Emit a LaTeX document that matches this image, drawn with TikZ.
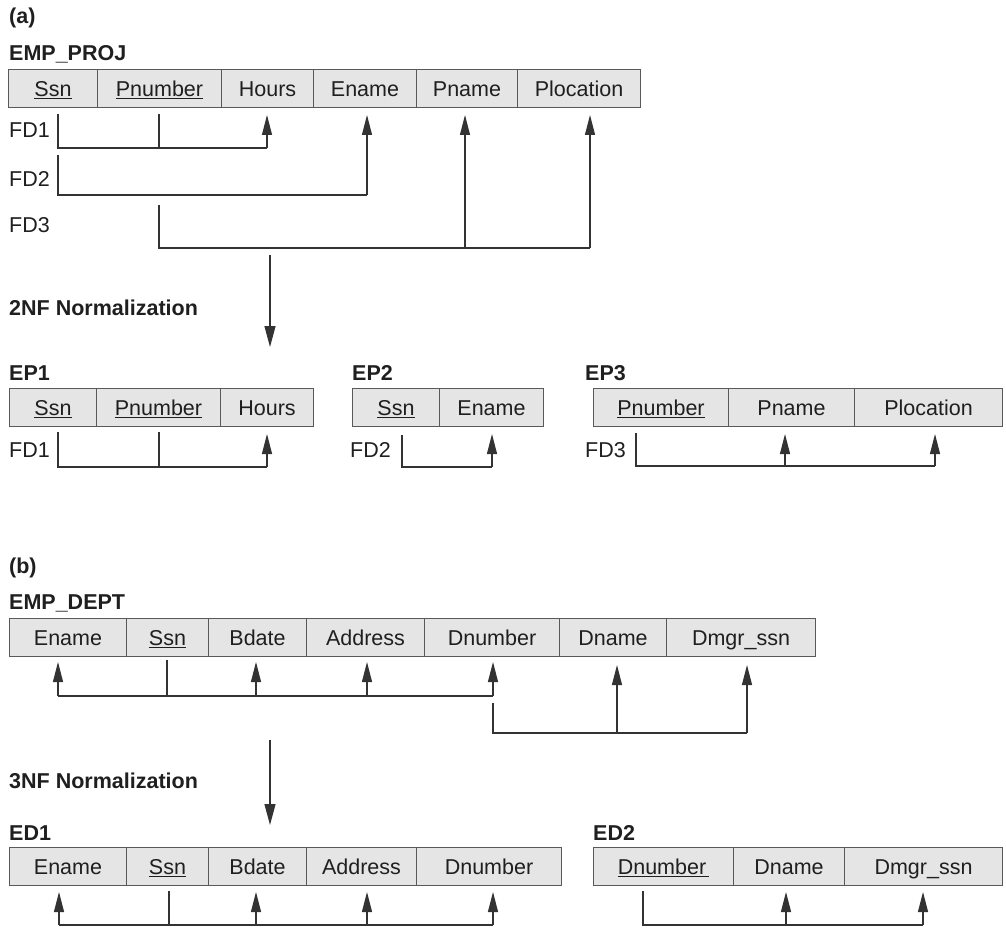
\documentclass[tikz,border=0pt]{standalone}
\usepackage{fontspec}
\setmainfont{Liberation Sans}
\usetikzlibrary{arrows.meta}
\definecolor{textcol}{gray}{0.12}
\definecolor{linecol}{gray}{0.2}
\definecolor{bordercol}{gray}{0.35}
\definecolor{cellgray}{gray}{0.9}
\newcommand\cellfont{\fontsize{21.5}{24}\selectfont}
\newcommand\lblfont{\fontsize{21.5}{24}\selectfont\bfseries}
\newcommand\ul[1]{\underline{#1}}
\tikzset{
  cell/.style={draw=bordercol, fill=cellgray, line width=1pt, anchor=north west,
    minimum height=38pt, inner sep=0pt, text height=15.4pt, text depth=0pt,
    font=\cellfont, text=textcol},
  lbl/.style={anchor=base west, inner sep=0pt, font=\lblfont, text=textcol},
  fdlbl/.style={anchor=base west, inner sep=0pt, font=\cellfont, text=textcol},
  fdline/.style={draw=linecol, line width=1.2pt},
  fdarrow/.style={fdline, -{Triangle[length=20pt,width=10pt]}},
  normarrow/.style={fdline, -{Triangle[length=21pt,width=11pt]}},
}
\begin{document}
\begin{tikzpicture}[x=1pt,y=-1pt]
\useasboundingbox (0,0) rectangle (1006,928);

% ---------------- (a) ----------------
\node[lbl] (labA) at (9,24) {(a)};
\node[lbl] (tEP) at (9,61) {EMP\_PROJ};
\node[cell, minimum width=89pt]  (epSsn)   at (8,69)   {\ul{Ssn}};
\node[cell, minimum width=124pt] (epPnum)  at (97,69)  {\ul{Pnumber}};
\node[cell, minimum width=92pt]  (epHours) at (221,69) {Hours};
\node[cell, minimum width=103pt] (epEname) at (313,69) {Ename};
\node[cell, minimum width=101pt] (epPname) at (416,69) {Pname};
\node[cell, minimum width=123pt] (epPloc)  at (517,69) {Plocation};

\node[fdlbl] (fd1a) at (9,138) {FD1};
\node[fdlbl] (fd2a) at (9,187) {FD2};
\node[fdlbl] (fd3a) at (9,233) {FD3};

% FD1
\coordinate (a1s) at (58,114);  \coordinate (a1sb) at (58,148);
\coordinate (a1p) at (159,114); \coordinate (a1pb) at (159,148);
\coordinate (a1hb) at (267,148); \coordinate (a1h) at (267,115);
\draw[fdline] (a1s) -- (a1sb) -- (a1hb);
\draw[fdline] (a1p) -- (a1pb);
\draw[fdarrow] (a1hb) -- (a1h);
% FD2
\coordinate (a2s) at (58,155); \coordinate (a2sb) at (58,195);
\coordinate (a2eb) at (367,195); \coordinate (a2e) at (367,115);
\draw[fdline] (a2s) -- (a2sb) -- (a2eb);
\draw[fdarrow] (a2eb) -- (a2e);
% FD3
\coordinate (a3p) at (159,205); \coordinate (a3pb) at (159,248);
\coordinate (a3nb) at (465,248); \coordinate (a3n) at (465,115);
\coordinate (a3lb) at (590,248); \coordinate (a3l) at (590,115);
\draw[fdline] (a3p) -- (a3pb) -- (a3lb);
\draw[fdarrow] (a3lb) -- (a3l);
\draw[fdarrow] (a3nb) -- (a3n);

% 2NF arrow
\coordinate (n2s) at (270,255); \coordinate (n2e) at (270,347);
\draw[normarrow] (n2s) -- (n2e);
\node[lbl] (t2nf) at (9,315) {2NF Normalization};

% EP1
\node[lbl] (tEP1) at (9,380) {EP1};
\node[cell, minimum width=87pt]  (e1Ssn)   at (9,388)   {\ul{Ssn}};
\node[cell, minimum width=124pt] (e1Pnum)  at (96,388)  {\ul{Pnumber}};
\node[cell, minimum width=93pt]  (e1Hours) at (220,388) {Hours};
\node[fdlbl] (fd1b) at (9,457) {FD1};
\coordinate (b1s) at (58,432);  \coordinate (b1sb) at (58,467);
\coordinate (b1p) at (159,432); \coordinate (b1pb) at (159,467);
\coordinate (b1hb) at (267,467); \coordinate (b1h) at (267,434);
\draw[fdline] (b1s) -- (b1sb) -- (b1hb);
\draw[fdline] (b1p) -- (b1pb);
\draw[fdarrow] (b1hb) -- (b1h);

% EP2
\node[lbl] (tEP2) at (352,380) {EP2};
\node[cell, minimum width=87pt]  (e2Ssn)   at (352,388) {\ul{Ssn}};
\node[cell, minimum width=104pt] (e2Ename) at (439,388) {Ename};
\node[fdlbl] (fd2b) at (350,457) {FD2};
\coordinate (b2s) at (402,435); \coordinate (b2sb) at (402,467);
\coordinate (b2eb) at (492,467); \coordinate (b2e) at (492,434);
\draw[fdline] (b2s) -- (b2sb) -- (b2eb);
\draw[fdarrow] (b2eb) -- (b2e);

% EP3
\node[lbl] (tEP3) at (585,380) {EP3};
\node[cell, minimum width=135pt] (e3Pnum)  at (593,388) {\ul{Pnumber}};
\node[cell, minimum width=126pt] (e3Pname) at (728,388) {Pname};
\node[cell, minimum width=148pt] (e3Ploc)  at (854,388) {Plocation};
\node[fdlbl] (fd3b) at (585,457) {FD3};
\coordinate (b3p) at (636,433); \coordinate (b3pb) at (636,466);
\coordinate (b3nb) at (785,466); \coordinate (b3n) at (785,434);
\coordinate (b3lb) at (935,466); \coordinate (b3l) at (935,434);
\draw[fdline] (b3p) -- (b3pb) -- (b3lb);
\draw[fdarrow] (b3lb) -- (b3l);
\draw[fdarrow] (b3nb) -- (b3n);

% ---------------- (b) ----------------
\node[lbl] (labB) at (9,573) {(b)};
\node[lbl] (tED) at (9,609) {EMP\_DEPT};
\node[cell, minimum width=117pt] (dEname) at (9,618)   {Ename};
\node[cell, minimum width=82pt]  (dSsn)   at (126,618) {\ul{Ssn}};
\node[cell, minimum width=98pt]  (dBdate) at (208,618) {Bdate};
\node[cell, minimum width=118pt] (dAddr)  at (306,618) {Address};
\node[cell, minimum width=135pt] (dDnum)  at (424,618) {Dnumber};
\node[cell, minimum width=107pt] (dDname) at (559,618) {Dname};
\node[cell, minimum width=149pt] (dDmgr)  at (666,618) {Dmgr\_ssn};

\coordinate (c1e) at (58,662);  \coordinate (c1eb) at (58,696);
\coordinate (c1s) at (167,660); \coordinate (c1sb) at (167,696);
\coordinate (c1b) at (256,662); \coordinate (c1bb) at (256,696);
\coordinate (c1a) at (367,662); \coordinate (c1ab) at (367,696);
\coordinate (c1d) at (493,662); \coordinate (c1db) at (493,696);
\draw[fdline] (c1eb) -- (c1db);
\draw[fdline] (c1s) -- (c1sb);
\draw[fdarrow] (c1eb) -- (c1e);
\draw[fdarrow] (c1bb) -- (c1b);
\draw[fdarrow] (c1ab) -- (c1a);
\draw[fdarrow] (c1db) -- (c1d);

\coordinate (c2d) at (493,703); \coordinate (c2db) at (493,733);
\coordinate (c2nb) at (617,733); \coordinate (c2n) at (617,665);
\coordinate (c2mb) at (747,733); \coordinate (c2m) at (747,665);
\draw[fdline] (c2d) -- (c2db) -- (c2mb);
\draw[fdarrow] (c2mb) -- (c2m);
\draw[fdarrow] (c2nb) -- (c2n);

% 3NF arrow
\coordinate (n3s) at (270,740); \coordinate (n3e) at (270,825);
\draw[normarrow] (n3s) -- (n3e);
\node[lbl] (t3nf) at (9,788) {3NF Normalization};

% ED1
\node[lbl] (tED1) at (9,840) {ED1};
\node[cell, minimum width=117pt] (f1Ename) at (9,847)   {Ename};
\node[cell, minimum width=82pt]  (f1Ssn)   at (126,847) {\ul{Ssn}};
\node[cell, minimum width=98pt]  (f1Bdate) at (208,847) {Bdate};
\node[cell, minimum width=110pt] (f1Addr)  at (306,847) {Address};
\node[cell, minimum width=145pt] (f1Dnum)  at (416,847) {Dnumber};
\coordinate (g1e) at (59,892);  \coordinate (g1eb) at (59,925);
\coordinate (g1s) at (169,891); \coordinate (g1sb) at (169,925);
\coordinate (g1b) at (256,892); \coordinate (g1bb) at (256,925);
\coordinate (g1a) at (367,892); \coordinate (g1ab) at (367,925);
\coordinate (g1d) at (493,892); \coordinate (g1db) at (493,925);
\draw[fdline] (g1eb) -- (g1db);
\draw[fdline] (g1s) -- (g1sb);
\draw[fdarrow] (g1eb) -- (g1e);
\draw[fdarrow] (g1bb) -- (g1b);
\draw[fdarrow] (g1ab) -- (g1a);
\draw[fdarrow] (g1db) -- (g1d);

% ED2
\node[lbl] (tED2) at (593,840) {ED2};
\node[cell, minimum width=140pt] (f2Dnum)  at (593,847) {\ul{Dnumber\hspace{3pt}}};
\node[cell, minimum width=111pt] (f2Dname) at (733,847) {Dname};
\node[cell, minimum width=158pt] (f2Dmgr)  at (844,847) {Dmgr\_ssn};
\coordinate (g2d) at (643,891); \coordinate (g2db) at (643,925);
\coordinate (g2nb) at (786,925); \coordinate (g2n) at (786,892);
\coordinate (g2mb) at (923,925); \coordinate (g2m) at (923,892);
\draw[fdline] (g2d) -- (g2db) -- (g2mb);
\draw[fdarrow] (g2mb) -- (g2m);
\draw[fdarrow] (g2nb) -- (g2n);
\end{tikzpicture}
\end{document}
